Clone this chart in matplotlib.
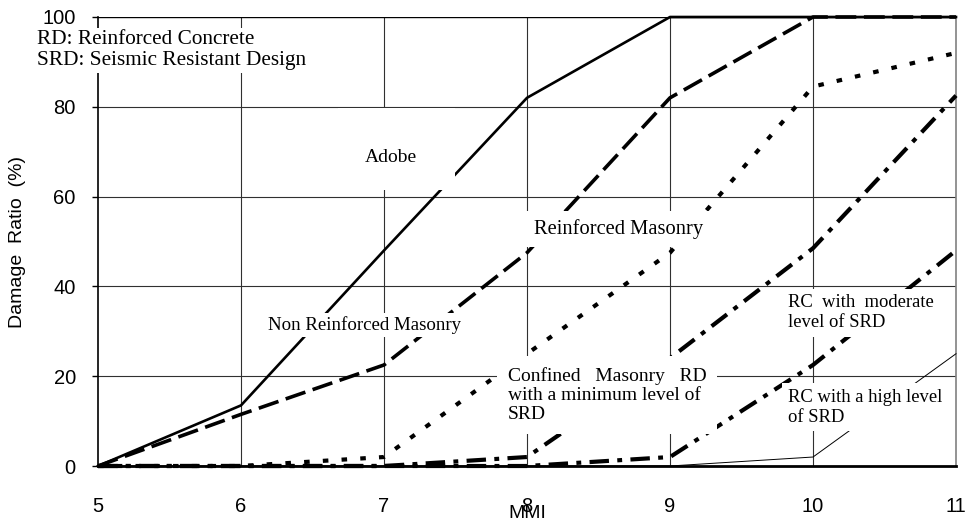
import matplotlib
matplotlib.use('Agg')
import matplotlib.pyplot as plt
from matplotlib.patches import Rectangle

### data
mmi = [5, 6, 7, 8, 9, 10, 11]

adobe = [0, 13.5, 48, 82, 100, 100, 100]
nonReinforcedMasonry = [0, 11.5, 22.5, 47.5, 82, 100, 100]
reinforcedMasonry = [0, 0, 2, 25, 47.5, 84.5, 92]
confinedMasonry = [0, 0, 0, 2, 24, 48.5, 82.5]
rcModerate = [0, 0, 0, 0, 2, 22.5, 48]
rcHigh = [0, 0, 0, 0, 0, 2, 25]

yTicks = [0, 20, 40, 60, 80, 100]

plt.rcParams['lines.scale_dashes'] = False

fig = plt.figure(figsize=(9.68, 5.25), dpi=100)
ax = fig.add_axes([98 / 968, 1 - 466 / 525, 858 / 968, 449 / 525])

ax.set_xlim(5, 11)
ax.set_ylim(0, 100)

# grid
for x in mmi[1:-1]:
    ax.axvline(x, color='#303030', lw=0.8, zorder=1)
for y in yTicks[1:-1]:
    ax.axhline(y, color='#303030', lw=0.8, zorder=1)
ax.axhline(100, color='black', lw=1.0, zorder=1)

ax.spines['top'].set_visible(False)
ax.spines['right'].set_color('#808080')
ax.spines['right'].set_linewidth(1.2)
ax.spines['left'].set_linewidth(1.2)
ax.spines['bottom'].set_linewidth(2.0)

ax.plot(mmi, adobe, color='black', lw=1.9, zorder=3, clip_on=False)
ax.plot(mmi, nonReinforcedMasonry, color='black', lw=2.6, dashes=(15, 5.5), zorder=3, clip_on=False)
ax.plot(mmi, reinforcedMasonry, color='black', lw=3.0, dashes=(4.0, 9.5), zorder=3, clip_on=False)
ax.plot(mmi, confinedMasonry, color='black', lw=3.0, dashes=(14, 6, 3.5, 6), zorder=3, clip_on=False)
ax.plot(mmi, rcModerate, color='black', lw=3.0, dashes=(14, 6, 3.5, 6), zorder=3, clip_on=False)
ax.plot(mmi, rcHigh, color='black', lw=0.7, zorder=3, clip_on=False)

# ticks
ax.set_xticks(mmi)
ax.set_yticks(yTicks)
ax.tick_params(axis='x', length=0, pad=22, labelsize=14.5)
ax.tick_params(axis='y', length=4, width=1, direction='out', pad=12, labelsize=14.5)
for lab in ax.get_xticklabels() + ax.get_yticklabels():
    lab.set_fontfamily('Liberation Sans')

ax.set_xlabel('MMI', fontsize=14, family='Liberation Sans', va='center')
ax.xaxis.set_label_coords(0.5, -47 / 449)
ax.set_ylabel('Damage  Ratio  (%)', fontsize=14, family='Liberation Sans', va='center')
ax.yaxis.set_label_coords(-80 / 858, 0.5)

serif = 'Liberation Serif'


def whiteBox(pad):
    return dict(facecolor='white', edgecolor='none', pad=pad)


# blank area behind the Adobe label
ax.add_patch(Rectangle((6.68, 61.5), 0.82, 18.3, facecolor='white', edgecolor='none', zorder=4))

ax.text(4.575, 92.6, 'RD: Reinforced Concrete\nSRD: Seismic Resistant Design', fontsize=15.3,
        family=serif, ha='left', va='center', linespacing=1.12, bbox=whiteBox(2), zorder=5, clip_on=False)
ax.text(7.05, 68.8, 'Adobe', fontsize=14, family=serif, ha='center', va='center', zorder=5)
ax.text(8.05, 52.8, 'Reinforced Masonry', fontsize=14.8, family=serif, ha='left', va='center',
        bbox=whiteBox(6), zorder=5)
ax.text(6.19, 31.4, 'Non Reinforced Masonry', fontsize=13.6, family=serif, ha='left', va='center',
        bbox=whiteBox(2), zorder=5)
ax.text(7.865, 15.8, 'Confined   Masonry   RD\nwith a minimum level of\nSRD', fontsize=14,
        family=serif, ha='left', va='center', linespacing=1.18, bbox=whiteBox(8), zorder=5)
ax.text(9.825, 34.1, 'RC  with  moderate\nlevel of SRD', fontsize=13.4, family=serif,
        ha='left', va='center', linespacing=1.24, bbox=whiteBox(4), zorder=5)
ax.text(9.825, 13.1, 'RC with a high level\nof SRD', fontsize=13.4, family=serif,
        ha='left', va='center', linespacing=1.24, bbox=whiteBox(4), zorder=5)

fig.savefig('out.png', dpi=100)
